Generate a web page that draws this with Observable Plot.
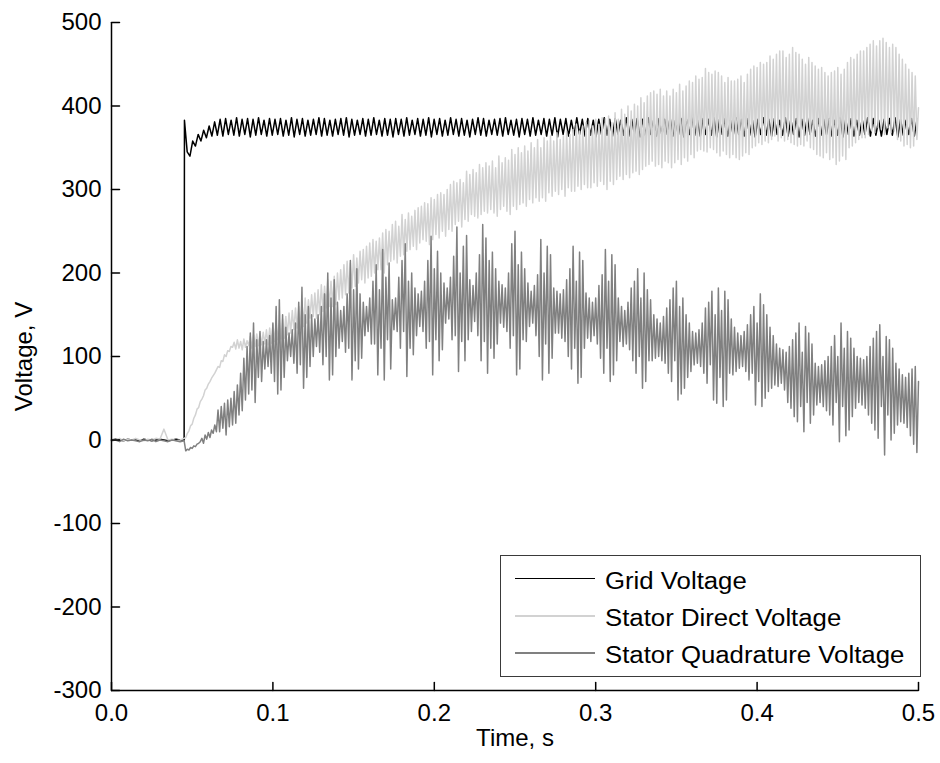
<!DOCTYPE html>
<html>
<head>
<meta charset="utf-8">
<script src="https://cdn.jsdelivr.net/npm/d3@7"></script>
<script src="https://cdn.jsdelivr.net/npm/@observablehq/plot@0.6"></script>
<style>
html,body{margin:0;padding:0;background:#fff;}
#wrap{position:relative;width:940px;height:763px;font-family:"Liberation Sans",Arial,sans-serif;}
#legend{position:absolute;left:500px;top:555px;width:421px;height:122px;border:1.5px solid #3a3a3a;background:#fff;box-sizing:border-box;}
#legend .sw{position:absolute;left:13.5px;width:80px;height:1.6px;}
#legend .lb{position:absolute;left:103.5px;font-size:23px;line-height:1;white-space:nowrap;transform-origin:left center;transform:translateY(-50%) scaleX(1.12);color:#000;}
</style>
</head>
<body>
<div id="wrap"><div id="legend"></div></div>
<script>
// ---- data ----
const seriesNames = ["Grid Voltage", "Stator Direct Voltage", "Stator Quadrature Voltage"];
const seriesColors = ["#000000", "#d2d2d2", "#808080"];
const xTicks = [0, 0.1, 0.2, 0.3, 0.4, 0.5];
const yTicks = [-300, -200, -100, 0, 100, 200, 300, 400, 500];
const xDomain = [0, 0.5];
const yDomain = [-300, 500];

// before the transient: samples every 2.5 ms from t = 0 to 0.045 s
const preDt = 0.0025;
const gridPre   = [0,1,0,-1,1,0,0,-1,1,0,-1,0,1,0,-1,0,1,0,0];
const directPre = [1,0,2,-1,1,0,2,0,-1,1,0,2,1,13,0,1,-1,0,2];
const quadPre   = [-1,0,-2,1,-1,0,-1,-2,0,-1,1,-2,0,-1,-2,0,-1,-2,-1];

// grid voltage: from t = 0.0452 s, every 1.7 ms
const gridT0 = 0.0452, gridDt = 0.0017;
const gridMain = [
383,345,340,358,352,366,358,371,362,376,364,381,365,384,
364,385,366,383,365,386,364,384,366,385,363,384,365,386,366,383,364,385,365,384,
366,385,364,383,365,386,363,384,366,385,364,383,365,384,366,386,364,385,365,383,
364,384,366,385,365,386,363,384,365,383,366,385,364,384,365,386,366,383,364,385,
365,384,363,385,366,384,364,386,365,383,366,385,364,384,365,386,363,384,366,385,
364,383,365,386,366,384,364,385,365,383,363,384,366,386,365,385,364,383,366,384,
365,385,364,386,366,383,365,384,363,385,366,384,364,386,365,383,366,385,364,384,
365,386,363,384,366,385,364,383,365,386,366,384,364,385,365,383,363,384,366,386,
365,384,364,385,366,383,365,386,364,384,366,385,363,384,365,386,366,383,364,385,
365,384,366,386,364,383,365,385,363,384,366,386,365,383,364,385,366,384,365,386,
363,384,366,385,364,383,365,386,366,384,364,385,365,383,363,384,366,386,365,384,
364,385,366,383,365,386,364,384,366,385,363,384,365,386,366,383,364,385,365,384,
366,385,364,383,365,386,363,384,366,385,364,383,365,384,366,386,364,385,365,383,
364,384,366,385,365,386,363,384,365,383,366,385,364,384
];

// stator voltages: from t = 0.046 s, every 1 ms
const statorT0 = 0.046, statorDt = 0.001;
const directMain = [
3,8,11,17,19,26,30,37,39,46,
49,53,60,62,67,70,74,77,80,84,
88,87,95,94,102,100,107,106,112,111,
117,109,120,110,118,108,121,111,119,113,
124,110,126,112,127,113,128,114,129,115,
132,114,134,116,138,118,140,120,143,121,
145,122,148,126,152,128,155,132,158,134,
160,132,166,136,170,140,168,146,174,148,
176,146,180,150,186,154,184,158,192,160,
190,160,196,162,200,168,204,170,210,174,
214,176,212,182,222,184,218,188,226,192,
228,188,232,194,236,196,240,200,238,204,
242,204,248,200,252,210,250,214,258,216,
262,212,256,220,270,222,264,226,272,228,
268,232,275,228,278,236,280,240,284,238,
283,234,290,240,288,246,294,242,296,250,
294,244,300,252,306,250,310,258,308,262,
312,255,308,264,322,262,318,270,324,268,
320,266,330,270,326,274,332,272,328,276,
334,272,326,268,340,276,332,280,338,274,
335,270,348,280,342,276,350,282,344,284,
352,280,346,288,356,284,350,290,360,286,
350,290,362,286,358,296,364,292,358,298,
368,294,360,300,364,292,370,302,366,298,
372,298,378,304,370,300,376,306,380,302,
382,302,376,308,384,304,378,310,386,306,
385,300,388,310,380,306,392,312,384,316,
396,312,390,318,400,314,394,320,402,322,
400,318,410,324,404,328,412,330,416,334,
418,328,414,330,420,326,412,334,418,332,
412,326,420,332,416,336,426,330,418,338,
424,334,430,342,428,338,436,346,432,348,
434,346,445,345,440,350,438,348,442,344,
440,340,436,346,428,342,434,338,430,342,
430,338,432,336,436,340,428,344,438,342,
444,350,448,352,446,356,452,354,450,358,
452,356,460,360,456,364,462,358,466,362,
466,358,458,360,462,356,470,354,464,352,
462,354,456,352,450,358,458,350,452,348,
448,342,444,340,446,338,440,344,436,336,
440,338,442,330,446,334,438,340,444,336,
452,350,458,352,456,356,462,360,466,362,
466,362,470,366,474,370,478,368,472,374,
478,372,481,366,476,374,470,368,474,370,
470,360,462,358,456,352,450,354,444,350,
440,352,436,360,398
];
const quadMain = [
-13,-11,-12,-9,-10,-7,-8,-5,-4,-2,
2,-4,6,1,9,3,12,8,18,10,
36,10,40,14,44,6,48,16,50,18,
58,20,66,30,80,35,98,48,112,55,
128,60,140,45,120,75,130,70,118,85,
120,88,125,80,140,70,160,55,168,60,
150,75,135,95,128,100,132,92,140,80,
165,90,183,62,150,75,160,88,150,100,
145,112,150,105,160,90,175,100,200,72,
170,78,192,100,165,110,155,118,160,105,
175,110,215,72,180,95,205,85,175,98,
165,125,160,130,170,115,190,115,210,78,
180,110,228,72,195,120,212,85,168,132,
170,130,195,110,215,130,235,76,190,110,
200,102,182,125,175,136,178,130,190,110,
215,118,244,78,205,120,226,95,200,108,
188,140,182,145,195,120,220,125,255,82,
200,118,232,95,245,120,192,130,185,142,
200,125,222,95,258,118,242,80,215,110,
225,98,205,115,190,140,186,135,182,130,
200,110,235,125,250,78,210,85,225,120,
205,118,188,136,178,140,185,125,198,100,
240,72,200,115,232,80,222,98,182,128,
178,128,175,122,180,118,192,100,205,85,
232,110,190,68,225,75,215,110,176,122,
170,118,165,125,170,115,185,98,198,80,
228,110,190,70,222,78,210,95,170,118,
160,112,155,115,165,108,182,95,190,80,
205,100,170,62,200,70,180,95,168,95,
150,98,145,100,140,95,148,92,158,80,
168,70,182,95,190,48,160,55,170,62,
150,75,140,82,130,90,128,92,132,88,
140,80,158,68,165,90,178,48,150,44,
182,75,155,40,178,48,168,80,145,78,
135,82,128,86,125,88,130,82,138,72,
150,80,160,42,140,70,175,40,162,50,
150,58,135,62,125,66,115,64,110,68,
108,60,105,45,112,38,120,28,128,22,
140,40,105,10,136,45,128,20,115,30,
92,42,88,45,90,40,95,35,100,30,
112,18,125,45,100,-2,140,40,110,5,
130,12,122,28,110,38,100,45,98,42,
96,38,100,30,112,20,122,12,130,2,
138,40,100,-18,124,30,120,0,110,8,
92,18,85,22,78,20,75,15,80,5,
85,-5,88,-15,70
];

// ---- build tables ----
function build(pre, t0, dt, vals) {
  const rows = pre.map((v, i) => ({t: i * preDt, v}));
  vals.forEach((v, i) => rows.push({t: t0 + i * dt, v}));
  return rows;
}
const gridRows = build(gridPre, gridT0, gridDt, gridMain);
const directRows = build(directPre, statorT0, statorDt, directMain);
const quadRows = build(quadPre, statorT0, statorDt, quadMain);

const tickShape = {draw(context, l) { context.moveTo(0, 0); context.lineTo(0, -l); }};
const fmtX = d3.format(".1f");
const fmtY = d => String(d);

const chart = Plot.plot({
  width: 940, height: 763,
  marginLeft: 111, marginRight: 22, marginTop: 22, marginBottom: 73,
  style: {fontFamily: '"Liberation Sans", Arial, sans-serif', fontSize: "24px", background: "white", color: "black"},
  x: {domain: xDomain},
  y: {domain: yDomain},
  marks: [
    Plot.axisX({ticks: xTicks, tickSize: 0, tickPadding: 13, tickFormat: fmtX, label: null}),
    Plot.axisY({ticks: yTicks, tickSize: 0, tickPadding: 10, tickFormat: fmtY, label: null}),
    Plot.line(gridRows, {x: "t", y: "v", stroke: seriesColors[0], strokeWidth: 1.5}),
    Plot.line(directRows, {x: "t", y: "v", stroke: seriesColors[1], strokeWidth: 1.5}),
    Plot.line(quadRows, {x: "t", y: "v", stroke: seriesColors[2], strokeWidth: 1.5}),
    Plot.ruleX([xDomain[0]], {stroke: "black", strokeWidth: 1.5}),
    Plot.ruleY([yDomain[0]], {stroke: "black", strokeWidth: 1.5}),
    Plot.vector(yTicks, {x: xDomain[0], y: d => d, length: 8, rotate: 90, anchor: "start", shape: tickShape, stroke: "black", strokeWidth: 1.5}),
    Plot.vector(xTicks, {x: d => d, y: yDomain[0], length: 8, anchor: "start", shape: tickShape, stroke: "black", strokeWidth: 1.5}),
    Plot.text(["Voltage, V"], {text: d => d, frameAnchor: "left", dx: -87, rotate: -90, textAnchor: "middle", fill: "black"}),
    Plot.text(["Time, s"], {text: d => d, frameAnchor: "bottom", dy: 55, textAnchor: "middle", fill: "black"})
  ]
});
document.getElementById("wrap").prepend(chart);

// ---- legend ----
const legend = document.getElementById("legend");
const rowY = [22.5, 60.2, 96.8];
seriesNames.forEach((name, i) => {
  const sw = document.createElement("div");
  sw.className = "sw";
  sw.style.top = (rowY[i] - 0.8) + "px";
  sw.style.background = seriesColors[i];
  legend.appendChild(sw);
  const lb = document.createElement("span");
  lb.className = "lb";
  lb.style.top = (rowY[i] + 2) + "px";
  lb.textContent = name;
  legend.appendChild(lb);
});
</script>
</body>
</html>
